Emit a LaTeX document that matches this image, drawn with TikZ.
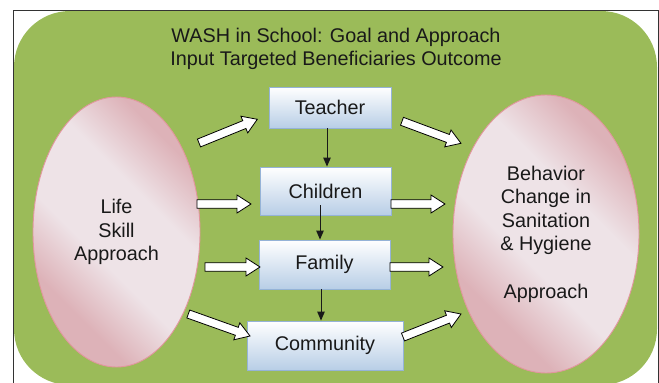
\documentclass[tikz,border=0pt]{standalone}
\usepackage{fontspec}
\setmainfont{Liberation Sans}
\usetikzlibrary{shapes.geometric,calc,arrows.meta}

\definecolor{leaf}{RGB}{155,187,89}
\definecolor{boxedge}{RGB}{149,179,215}
\definecolor{boxlow}{RGB}{184,206,230}
\definecolor{pinklight}{RGB}{238,227,231}
\definecolor{pinkdark}{RGB}{221,178,184}
\definecolor{pinkedge}{RGB}{226,150,158}
\definecolor{ink}{RGB}{25,25,25}

% diagonal light band across the two outer ovals
\pgfdeclarehorizontalshading{pinkband}{100bp}{color(0bp)=(pinkdark); color(30bp)=(pinkdark); color(43bp)=(pinklight); color(60bp)=(pinklight); color(73bp)=(pinkdark); color(100bp)=(pinkdark)}

% hollow block arrow from #1 to #2
\newcommand\fatarrow[2]{%
  \path ($(#2)!14pt!(#1)$) coordinate (hb);
  \draw[hollow] ($(#1)!4.2pt!90:(#2)$) -- ($(hb)!4.2pt!90:(#2)$)
    -- ($(hb)!9pt!90:(#2)$) -- (#2) -- ($(hb)!9pt!-90:(#2)$)
    -- ($(hb)!4.2pt!-90:(#2)$) -- ($(#1)!4.2pt!-90:(#2)$) -- cycle;}

\begin{document}
\begin{tikzpicture}[x=1pt,y=-1pt,
  every node/.style={text=ink, font=\fontsize{19.8pt}{23.6pt}\selectfont},
  stage/.style={draw=boxedge, line width=0.9pt, top color=white, bottom color=boxlow, inner sep=0pt},
  oval/.style={ellipse, draw=pinkedge, line width=0.9pt, shading=pinkband, shading angle=45, align=center, inner sep=0pt},
  hollow/.style={draw=black, fill=white, line width=0.8pt, line join=miter},
  down/.style={draw=ink, line width=1pt, -{Triangle[length=9pt,width=7.5pt]}}]

\useasboundingbox (0,0) rectangle (659,383);

% outer frame and green panel
\draw[black!80, line width=0.8pt] (13,383) -- (13,10) -- (658,10) -- (658,383);
\fill[leaf, rounded corners=56pt] (14,11) rectangle (657,385);

% heading
\node[align=center, font=\fontsize{19.8pt}{22.5pt}\selectfont] (title) at (336,49)
  {WASH in School: Goal and Approach\\Input Targeted Beneficiaries Outcome};

% input and outcome
\node[oval, minimum width=167pt, minimum height=270pt] (life) at (116.5,232)
  {Life\\Skill\\Approach};
\node[oval, minimum width=186pt, minimum height=278pt] (change) at (546,234)
  {Behavior\\Change in\\Sanitation\\\& Hygiene\\[23.6pt]Approach};

% targeted beneficiaries
\node[stage, minimum width=122pt, minimum height=41pt] (teacher) at (330,107.5) {Teacher};
\node[stage, minimum width=131pt, minimum height=48pt] (children) at (325.5,191) {Children};
\node[stage, minimum width=131pt, minimum height=49pt] (family) at (324.5,264.5) {Family};
\node[stage, minimum width=156pt, minimum height=49pt] (community) at (325,345.5) {Community};

% cascade between beneficiaries
\coordinate (c1) at ([xshift=-3pt]teacher.south);
\coordinate (c2) at ([xshift=-5.5pt,yshift=10pt]children.south);
\coordinate (c3) at ([xshift=-3.5pt]family.south);
\draw[down] (c1) -- (c1 |- children.north);
\draw[down] (c2) -- (c2 |- family.north);
\draw[down] (c3) -- (c3 |- community.north);

% block arrow end points
\coordinate (lt0) at (199,143);   \coordinate (lt1) at (257.3,119.3);
\coordinate (tr0) at (402,121.3); \coordinate (tr1) at (461,143.3);
\coordinate (lc0) at (197,204);   \coordinate (lc1) at (251,204);
\coordinate (cr0) at (391,204);   \coordinate (cr1) at (445,204);
\coordinate (lf0) at (205,267);   \coordinate (lf1) at (260,267);
\coordinate (fr0) at (390,267);   \coordinate (fr1) at (443,267);
\coordinate (lm0) at (188.3,314); \coordinate (lm1) at (250,336);
\coordinate (mr0) at (403,337);   \coordinate (mr1) at (461,314);

\fatarrow{lt0}{lt1}
\fatarrow{tr0}{tr1}
\fatarrow{lc0}{lc1}
\fatarrow{cr0}{cr1}
\fatarrow{lf0}{lf1}
\fatarrow{fr0}{fr1}
\fatarrow{lm0}{lm1}
\fatarrow{mr0}{mr1}
\end{tikzpicture}
\end{document}
